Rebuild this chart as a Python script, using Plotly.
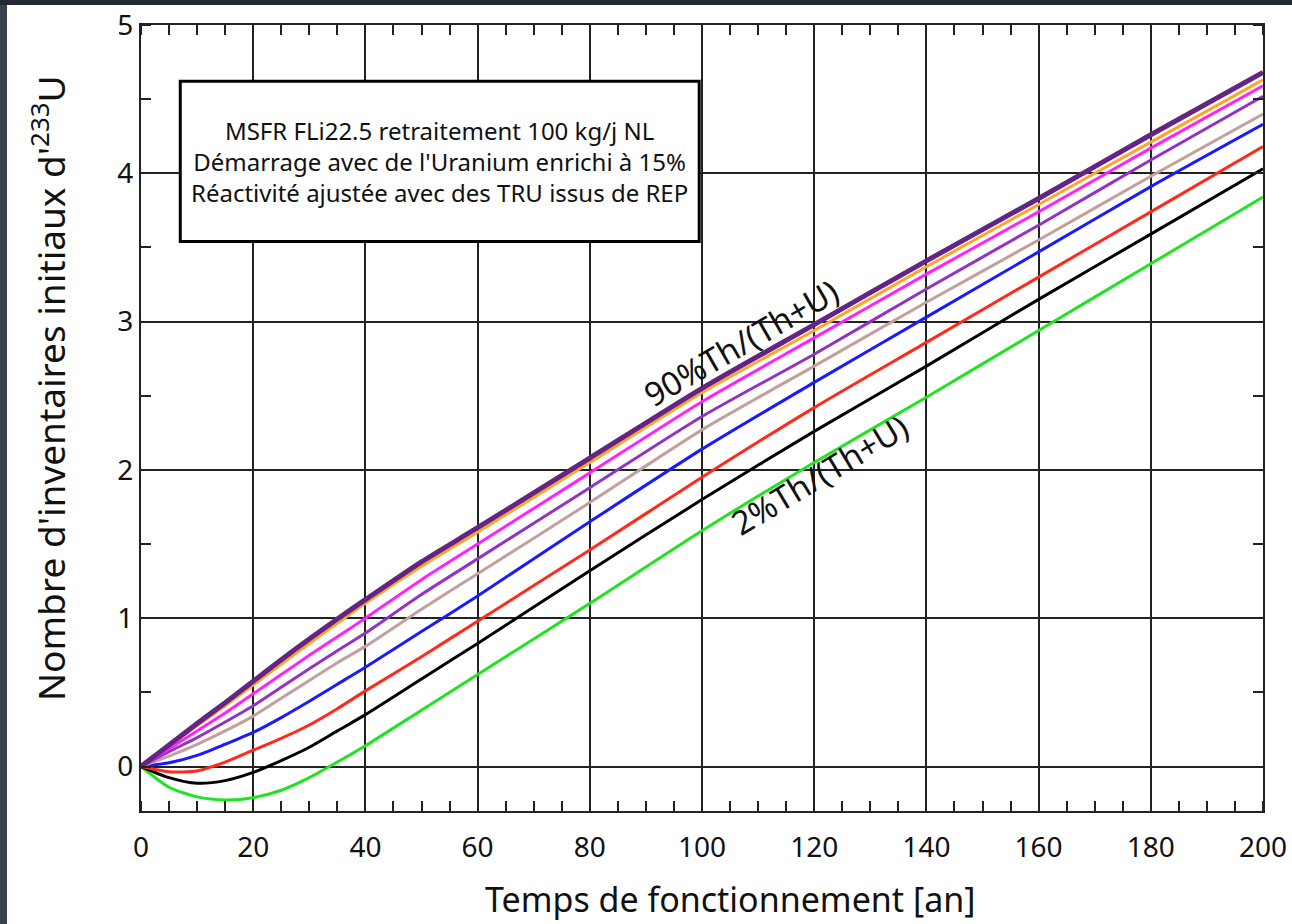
import plotly.graph_objects as go

years = [0, 5, 10, 15, 20, 25, 30, 35, 40, 50, 60, 80, 100, 120, 140, 160, 180, 200]

series_names = ["90%", "orange", "magenta", "violet", "rosybrown", "blue", "red", "black", "2%"]
th_90 = [0, 0.145, 0.29, 0.43, 0.575, 0.72, 0.86, 0.995, 1.125, 1.38, 1.61, 2.08, 2.55, 2.98, 3.41, 3.83, 4.26, 4.68]
th_orange = [0, 0.14, 0.275, 0.41, 0.55, 0.69, 0.83, 0.965, 1.10, 1.35, 1.58, 2.05, 2.52, 2.94, 3.37, 3.79, 4.21, 4.63]
th_magenta = [0, 0.12, 0.24, 0.36, 0.49, 0.62, 0.75, 0.875, 1.00, 1.26, 1.50, 1.98, 2.46, 2.89, 3.32, 3.74, 4.17, 4.59]
th_violet = [0, 0.10, 0.195, 0.30, 0.41, 0.535, 0.66, 0.78, 0.90, 1.16, 1.40, 1.88, 2.36, 2.78, 3.22, 3.65, 4.09, 4.52]
th_rosy = [0, 0.07, 0.15, 0.24, 0.34, 0.46, 0.58, 0.70, 0.81, 1.06, 1.30, 1.78, 2.27, 2.70, 3.13, 3.55, 3.98, 4.40]
th_blue = [0, 0.025, 0.075, 0.15, 0.23, 0.33, 0.44, 0.555, 0.67, 0.91, 1.15, 1.65, 2.14, 2.59, 3.03, 3.47, 3.91, 4.33]
th_red = [0, -0.035, -0.03, 0.03, 0.11, 0.19, 0.28, 0.39, 0.51, 0.74, 0.98, 1.46, 1.95, 2.42, 2.86, 3.30, 3.74, 4.18]
th_black = [0, -0.075, -0.113, -0.095, -0.04, 0.04, 0.13, 0.24, 0.35, 0.59, 0.83, 1.32, 1.80, 2.26, 2.70, 3.15, 3.59, 4.03]
th_2 = [0, -0.14, -0.205, -0.225, -0.21, -0.16, -0.075, 0.03, 0.14, 0.38, 0.62, 1.10, 1.59, 2.05, 2.49, 2.94, 3.39, 3.84]

colors = ["#642484", "#ffa526", "#ff22ff", "#9233c6", "#c4a09c", "#1a1aff", "#ff2a1a", "#000000", "#22e322"]
widths = [5, 3, 3, 3, 3, 3, 3, 3, 3]
values = [th_90, th_orange, th_magenta, th_violet, th_rosy, th_blue, th_red, th_black, th_2]

FONT = "Noto Sans"

fig = go.Figure()
for name, vals, c, w in reversed(list(zip(series_names, values, colors, widths))):
    fig.add_trace(go.Scatter(x=years, y=vals, mode="lines", name=name,
                             line=dict(color=c, width=w, shape="spline", smoothing=0.7),
                             showlegend=False, hoverinfo="skip"))

axis_common = dict(showline=True, linecolor="#222", linewidth=2, mirror="allticks",
                   showgrid=True, gridcolor="#222", gridwidth=1.5, zeroline=False, automargin=False,
                   ticks="", tickfont=dict(family=FONT, size=28, color="#111"))

fig.update_xaxes(range=[0, 200], tickvals=[0, 20, 40, 60, 80, 100, 120, 140, 160, 180, 200],
                 ticklabelstandoff=10,
                 minor=dict(dtick=5, ticks="inside", ticklen=10, tickcolor="#222", tickwidth=1.5, showgrid=False),
                 **axis_common)
fig.update_yaxes(range=[-0.3, 5], tickvals=[0, 1, 2, 3, 4, 5],
                 minor=dict(dtick=0.5, tick0=0, ticks="inside", ticklen=10, tickcolor="#222", tickwidth=1.5, showgrid=False),
                 **axis_common)

PL, PR, PT, PB = 141, 1263, 25, 811
W_PLOT = PR - PL
H_PLOT = PB - PT


def px_x(p):
    return (p - PL) / W_PLOT


def px_y(p):
    return (PB - p) / H_PLOT


# axis titles
fig.add_annotation(x=px_x(730), y=px_y(899), xref="paper", yref="paper", showarrow=False,
                   xanchor="center", yanchor="middle",
                   text="Temps de fonctionnement [an]", font=dict(family=FONT, size=34, color="#111"))
fig.add_annotation(x=px_x(48), y=px_y(388), xref="paper", yref="paper", showarrow=False, textangle=-90,
                   xanchor="center", yanchor="middle",
                   text="Nombre d'inventaires initiaux d'<sup>233</sup>U", font=dict(family=FONT, size=37, color="#111"))

# info box
fig.add_shape(type="rect", xref="x", yref="y", x0=7, x1=99.5, y0=3.54, y1=4.62,
              fillcolor="white", line=dict(color="black", width=3), layer="above")
fig.add_annotation(x=53.2, y=4.08, xref="x", yref="y", showarrow=False,
                   text="MSFR FLi22.5 retraitement 100 kg/j NL<br>Démarrage avec de l'Uranium enrichi à 15%<br>Réactivité ajustée avec des TRU issus de REP",
                   font=dict(family=FONT, size=24, color="#111"), align="center")

fig.add_annotation(x=107, y=2.86, xref="x", yref="y", showarrow=False, textangle=-30,
                   text="90%Th/(Th+U)", font=dict(family=FONT, size=33, color="#111"))
fig.add_annotation(x=121, y=1.97, xref="x", yref="y", showarrow=False, textangle=-31,
                   text="2%Th/(Th+U)", font=dict(family=FONT, size=33, color="#111"))

# dark frame edges of the original screenshot
fig.add_shape(type="rect", xref="paper", yref="paper",
              x0=px_x(0), x1=px_x(7), y0=px_y(924), y1=px_y(0),
              fillcolor="#3a424c", line=dict(width=0), layer="above")
fig.add_shape(type="rect", xref="paper", yref="paper",
              x0=px_x(0), x1=px_x(1292), y0=px_y(5), y1=px_y(0),
              fillcolor="#242a33", line=dict(width=0), layer="above")

fig.update_layout(width=1292, height=924,
                  margin=dict(l=PL, r=1292 - PR, t=PT, b=924 - PB, autoexpand=False),
                  paper_bgcolor="white", plot_bgcolor="white")

fig.write_html("out.html")
